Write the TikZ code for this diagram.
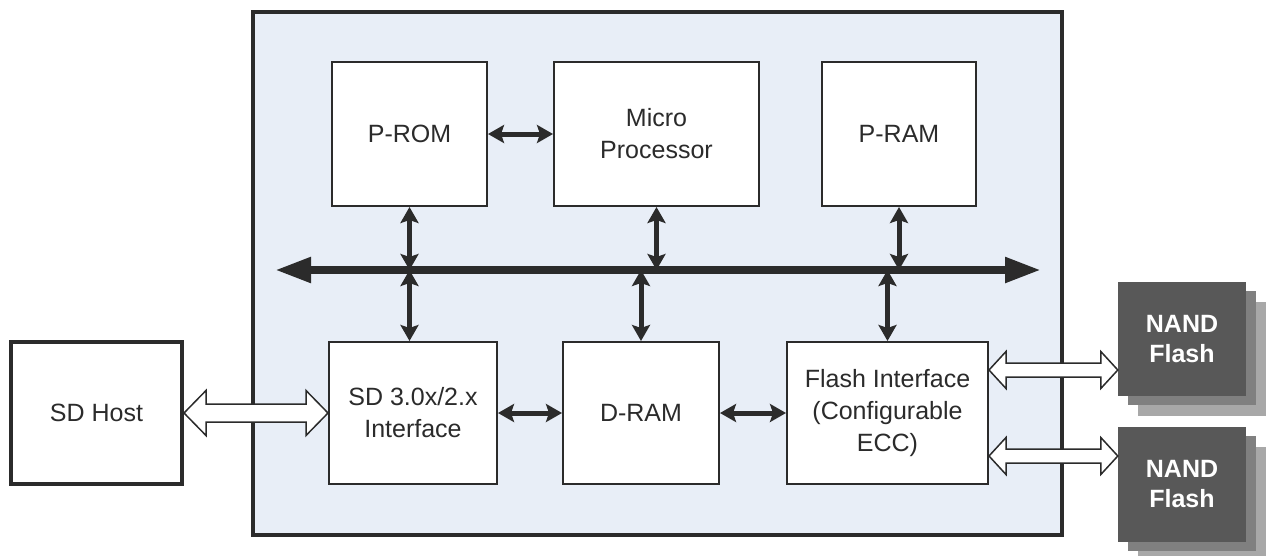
\documentclass[tikz,border=0pt]{standalone}
\usepackage{fontspec}
\setmainfont{Liberation Sans}
\usepackage{xcolor}
\definecolor{cChip}{HTML}{E8EEF7}
\definecolor{cInk}{HTML}{2B2B2B}
\definecolor{cNand}{HTML}{585858}
\definecolor{cNandB}{HTML}{808080}
\definecolor{cNandC}{HTML}{A8A8A8}
\usepackage{tikz}
\usetikzlibrary{arrows.meta, calc, shadows}

\newcommand{\fatlink}[5]{%
  \draw[hollow] let \p1=(#1), \p2=(#2) in
    (\x1,\y1) -- (\x1+#3,\y1+#4) -- (\x1+#3,\y1+#5) -- (\x2-#3,\y1+#5)
    -- (\x2-#3,\y1+#4) -- (\x2,\y1) -- (\x2-#3,\y1-#4) -- (\x2-#3,\y1-#5)
    -- (\x1+#3,\y1-#5) -- (\x1+#3,\y1-#4) -- cycle;}

\begin{document}
\begin{tikzpicture}[x=1pt, y=-1pt,
    block/.style={draw=cInk, line width=2pt, fill=white, align=center,
                  text=cInk, inner sep=0pt, font=\fontsize{25}{32}\selectfont},
    chipbox/.style={draw=cInk, line width=4pt, fill=cChip, inner sep=0pt},
    hostbox/.style={block, line width=4pt},
    nandbox/.style={fill=cNand, text=white, align=center, inner sep=0pt,
                    minimum width=128pt, minimum height=114pt,
                    font=\fontsize{25}{30}\selectfont\bfseries,
                    general shadow={fill=cNandC, shadow xshift=20pt, shadow yshift=-20pt},
                    general shadow={fill=cNandB, shadow xshift=10pt, shadow yshift=-9pt}},
    link/.style={{Stealth[length=16pt, width=18pt, inset=3pt]}-{Stealth[length=16pt, width=18pt, inset=3pt]},
                 line width=5pt, draw=cInk},
    bus/.style={{Triangle[length=36pt, width=24pt]}-{Triangle[length=36pt, width=24pt]},
                line width=8pt, draw=cInk},
    hollow/.style={draw=cInk, line width=1.5pt, fill=white, line join=miter}
]
\useasboundingbox (0,0) rectangle (1266,555);

\node[chipbox, minimum width=809pt, minimum height=523pt] (chip) at (657.5,273.5) {};

\node[block, minimum width=155pt, minimum height=144pt] (prom) at (409.5,134) {P-ROM};
\node[block, minimum width=205pt, minimum height=144pt] (micro) at (656.5,134) {Micro\\Processor};
\node[block, minimum width=154pt, minimum height=144pt] (pram) at (899,134) {P-RAM};
\node[block, minimum width=168pt, minimum height=142pt] (sdif) at (413,413) {SD 3.0x/2.x\\Interface};
\node[block, minimum width=156pt, minimum height=142pt] (dram) at (641,413) {D-RAM};
\node[block, minimum width=201pt, minimum height=142pt] (flash) at (887.5,413) {Flash Interface\\(Configurable\\ECC)};
\node[hostbox, minimum width=171pt, minimum height=142pt] (host) at (96.5,413) {SD Host};
\node[nandbox] (nandA) at (1182,339) {NAND\\Flash};
\node[nandbox, minimum height=115pt] (nandB) at (1182,484.5) {NAND\\Flash};

\coordinate (busL) at (275,270);
\coordinate (busR) at (1041,270);
\draw[bus] (busL) -- (busR);

\draw[link] (prom.east) -- (micro.west);
\draw[link] (prom.south) -- (prom.south |- busL);
\draw[link] (micro.south) -- (micro.south |- busL);
\draw[link] (pram.south) -- (pram.south |- busL);
\draw[link] (sdif.north -| prom) -- (prom |- busL);
\draw[link] (dram.north) -- (dram.north |- busL);
\draw[link] (flash.north) -- (flash.north |- busL);
\draw[link] (sdif.east) -- (dram.west);
\draw[link] (dram.east) -- (flash.west);

\coordinate (fA) at ($(flash.east)+(0,-43)$);
\coordinate (fB) at ($(flash.east)+(0,43)$);
\coordinate (nA) at (fA -| nandA.west);
\coordinate (nB) at (fB -| nandB.west);
\fatlink{host.east}{sdif.west}{22pt}{22.5pt}{9pt}
\fatlink{fA}{nA}{17pt}{18.5pt}{7pt}
\fatlink{fB}{nB}{17pt}{18.5pt}{7pt}
\end{tikzpicture}
\end{document}
